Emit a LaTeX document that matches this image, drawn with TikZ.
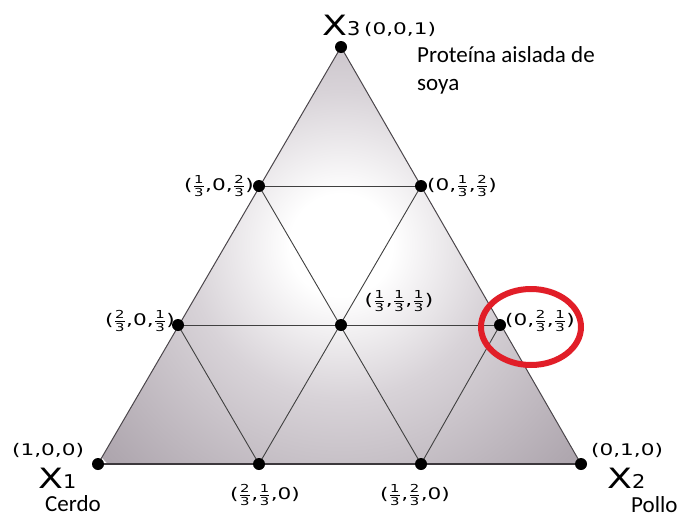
\documentclass[tikz,border=0pt]{standalone}
\usepackage{fontspec}
\setmainfont{DejaVu Sans}
\newfontfamily\calfont{Carlito}
\definecolor{cA}{RGB}{216,211,216}
\definecolor{cB}{RGB}{176,168,176}
\definecolor{cC}{RGB}{153,145,153}
\definecolor{cD}{RGB}{136,127,136}
\definecolor{cE}{RGB}{122,112,122}
\definecolor{edgegray}{RGB}{75,70,75}
\definecolor{ringred}{RGB}{225,30,40}
\pgfdeclareradialshading{tri}{\pgfpoint{0bp}{0bp}}{color(0bp)=(white); color(4bp)=(white); color(12bp)=(cA); color(24bp)=(cB); color(32bp)=(cC); color(42bp)=(cD); color(50bp)=(cE)}
\newcommand{\fr}[2]{$\frac{\mbox{\fontsize{11}{11}\selectfont #1}}{\mbox{\fontsize{11}{11}\selectfont #2}}$}
\newcommand{\wide}[1]{\scalebox{1.35}[1]{#1}}
\tikzset{
  dotnode/.style={circle, fill=black, inner sep=0pt, minimum size=12pt},
  coordlbl/.style={inner sep=0pt, font=\fontsize{16}{16}\selectfont},
  bigx/.style={inner sep=0pt, font=\fontsize{28}{28}\selectfont},
  namelbl/.style={inner sep=0pt, font=\calfont\fontsize{23}{23}\selectfont},
  gridline/.style={draw=black!75, line width=0.9pt},
  edgeline/.style={draw=edgegray, line width=1pt}
}
\begin{document}
\begin{tikzpicture}[x=1pt,y=-1pt]
\useasboundingbox (0,0) rectangle (683,517);
\coordinate (v1) at (98,464);
\coordinate (v2) at (581,464);
\coordinate (v3) at (341,47);
\coordinate (a) at (259,186);
\coordinate (b) at (421,186);
\coordinate (c) at (178,325);
\coordinate (d) at (341,325);
\coordinate (e) at (500,325);
\coordinate (f) at (259,464);
\coordinate (g) at (421,464);
\begin{scope}
  \clip (v1) -- (v2) -- (v3) -- cycle;
  \shade[shading=tri] (341,245) circle (320);
\end{scope}
\draw[edgeline] (v2) -- (v3) -- (v1);
\draw[draw=edgegray!80!black, line width=2pt] (v1) -- (v2);
\draw[gridline] (a) -- (b);
\draw[gridline] (c) -- (e);
\draw[gridline] (f) -- (b);
\draw[gridline] (g) -- (a);
\draw[gridline] (f) -- (c);
\draw[gridline] (g) -- (e);
\foreach \p in {v1,v2,v3,a,b,c,d,e,f,g} \node[dotnode] (n\p) at (\p) {};
% labels
\node[bigx, anchor=base west] (x3) at (322,35) {\scalebox{1.3}[1]{X}\scalebox{1.1}[1]{\fontsize{19}{19}\selectfont 3}};
\node[coordlbl, anchor=base west] (l3) at (364,34) {\wide{(0,0,1)}};
\node[namelbl, anchor=base west] (soy1) at (417,62) {Proteína aislada de};
\node[namelbl, anchor=base west] (soy2) at (417,90) {soya};
\node[coordlbl, anchor=east] (la) at (254,186) {\wide{(\fr{1}{3},0,\fr{2}{3})}};
\node[coordlbl, anchor=west] (lb) at (427,186) {\wide{(0,\fr{1}{3},\fr{2}{3})}};
\node[coordlbl, anchor=east] (lc) at (175,321) {\wide{(\fr{2}{3},0,\fr{1}{3})}};
\node[coordlbl] (ld) at (399,301) {\wide{(\fr{1}{3},\fr{1}{3},\fr{1}{3})}};
\node[coordlbl, anchor=west] (le) at (505,321) {\wide{(0,\fr{2}{3},\fr{1}{3})}};
\node[coordlbl] (lf) at (265,495) {\wide{(\fr{2}{3},\fr{1}{3},0)}};
\node[coordlbl] (lg) at (415,495) {\wide{(\fr{1}{3},\fr{2}{3},0)}};
\node[coordlbl, anchor=base west] (l1) at (12,455) {\wide{(1,0,0)}};
\node[bigx, anchor=base west] (x1) at (38,488) {\scalebox{1.3}[1]{X}\scalebox{1.1}[1]{\fontsize{19}{19}\selectfont 1}};
\node[namelbl, anchor=base west] (cerdo) at (45,511) {Cerdo};
\node[coordlbl, anchor=base west] (l2) at (591,455) {\wide{(0,1,0)}};
\node[bigx, anchor=base west] (x2) at (607,488) {\scalebox{1.3}[1]{X}\scalebox{1.1}[1]{\fontsize{19}{19}\selectfont 2}};
\node[namelbl, anchor=base west] (pollo) at (631,512) {Pollo};
\draw[draw=ringred, line width=6pt] (531,327) ellipse (50 and 38);
\end{tikzpicture}
\end{document}
